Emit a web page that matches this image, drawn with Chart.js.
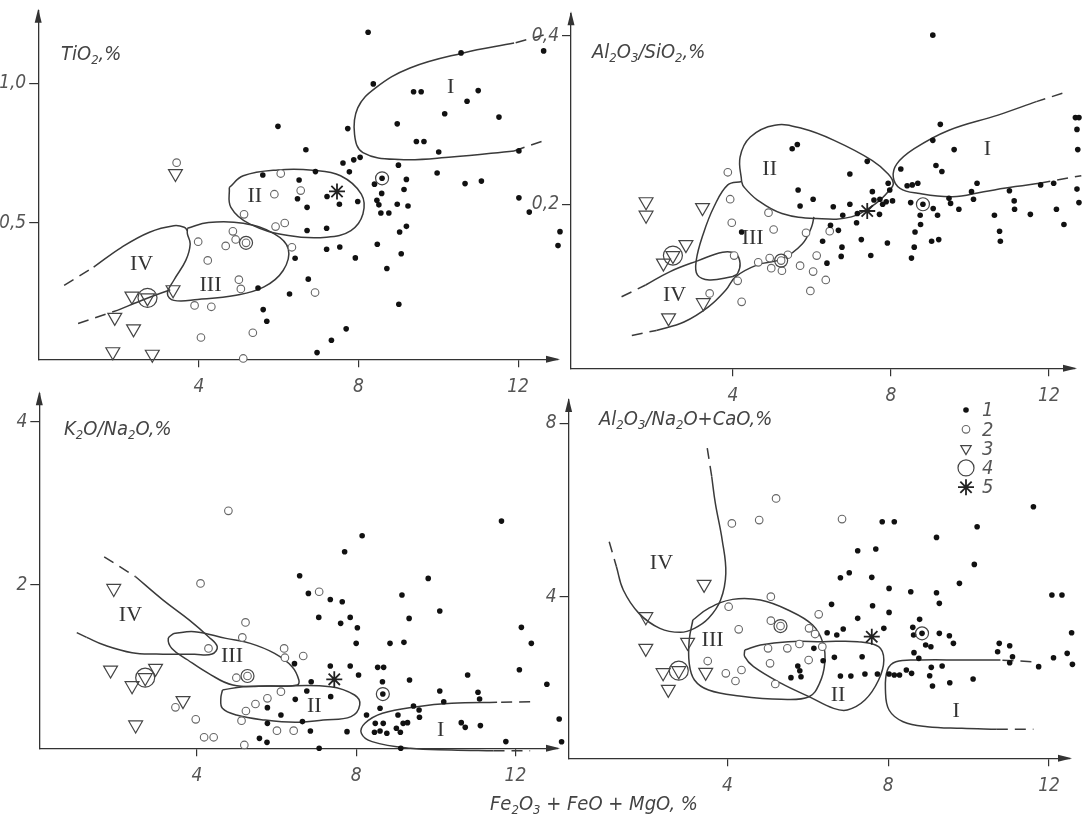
<!DOCTYPE html>
<html>
<head>
<meta charset="utf-8">
<script src="https://cdn.jsdelivr.net/npm/chart.js@4.4.1/dist/chart.umd.min.js"></script>
<style>
body { margin: 0; background: #fff; }
#page { position: relative; width: 1090px; height: 825px; overflow: hidden; background: #fff; }
canvas { position: absolute; left: 0; top: 0; }
.lbl { position: absolute; font-family: 'Liberation Sans Narrow', 'DejaVu Sans Condensed', 'Liberation Sans', sans-serif;
       font-style: italic; font-size: 20px; line-height: 20px; color: #444; white-space: nowrap; }
.lbl sub { font-size: 13px; vertical-align: -4px; line-height: 0; }
</style>
</head>
<body>
<div id="page">
<canvas id="c1" width="1090" height="825"></canvas>
<canvas id="c2" width="1090" height="825"></canvas>
<canvas id="c3" width="1090" height="825"></canvas>
<canvas id="c4" width="1090" height="825"></canvas>
<div class="lbl" style="left:61px;top:43px">TiO<sub>2</sub>,%</div>
<div class="lbl" style="left:592px;top:41px">Al<sub>2</sub>O<sub>3</sub>/SiO<sub>2</sub>,%</div>
<div class="lbl" style="left:64px;top:418px">K<sub>2</sub>O/Na<sub>2</sub>O,%</div>
<div class="lbl" style="left:599px;top:408px">Al<sub>2</sub>O<sub>3</sub>/Na<sub>2</sub>O+CaO,%</div>
<div class="lbl" style="left:490px;top:793px">Fe<sub>2</sub>O<sub>3</sub> + FeO + MgO, %</div>
</div>
<script>
// x axis is the same for all four panels: Fe2O3+FeO+MgO, %
var xTicks = [4, 8, 12];

// ---- panel 1: TiO2, %
var p1YTicks = [0.5, 1.0];
var p1YLabels = ['0,5', '1,0'];
var p1Dots = [[8.24,1.183],[10.57,1.109],[12.64,1.116],[8.37,0.998],[9.38,0.970],[9.57,0.970],[11.0,0.974],[10.72,0.936],
  [10.16,0.891],[11.52,0.879],[5.98,0.846],[7.73,0.838],[8.97,0.855],[9.45,0.792],[9.64,0.792],[6.68,0.762],[10.01,0.754],
  [12.02,0.758],[7.61,0.715],[7.88,0.726],[8.04,0.735],[9.0,0.707],[9.97,0.679],[5.60,0.672],[6.92,0.684],[7.77,0.683],
  [6.51,0.654],[10.67,0.641],[11.08,0.650],[8.40,0.639],[9.20,0.656],[8.58,0.606],[9.14,0.620],[8.46,0.581],[8.51,0.565],
  [8.56,0.536],[8.76,0.536],[6.47,0.587],[7.21,0.595],[7.52,0.567],[7.98,0.577],[6.71,0.556],[8.97,0.567],[9.24,0.561],
  [12.02,0.590],[12.28,0.539],[6.71,0.473],[7.20,0.481],[9.20,0.488],[9.03,0.468],[7.53,0.414],[7.20,0.406],[8.47,0.424],
  [6.41,0.374],[7.92,0.375],[9.07,0.390],[8.71,0.337],[6.74,0.299],[5.48,0.267],[6.27,0.246],[5.61,0.190],[5.70,0.148],
  [9.01,0.209],[7.69,0.121],[7.32,0.080],[6.96,0.036],[13.24,0.954],[13.24,0.669],[13.05,0.469],[13.0,0.419],[8.59,0.660]];
var p1Circles = [[3.44,0.716],[6.05,0.677],[5.89,0.603],[6.55,0.616],[5.13,0.531],[5.92,0.487],[6.15,0.500],[4.85,0.470],
  [4.92,0.441],[3.98,0.433],[4.67,0.418],[4.22,0.366],[6.33,0.413],[5.00,0.297],[5.05,0.264],[6.91,0.251],[3.89,0.205],
  [4.31,0.200],[5.35,0.107],[4.05,0.090],[5.11,0.015],[5.18,0.429]];
var p1Triangles = [[3.41,0.677],[2.32,0.238],[3.35,0.261],[1.89,0.162],[2.36,0.121],[1.84,0.039],[2.83,0.030],[2.71,0.232]];
var p1Rings = [[5.18,0.429],[2.71,0.232],[8.59,0.660]];
var p1Stars = [[7.46,0.613]];
var p1Curves = [
  [[11.90,1.144],[10.60,1.108],[9.29,1.055],[8.42,0.983],[7.98,0.912],[7.90,0.817],[8.11,0.752],[9.03,0.727],[10.33,0.736],[11.90,0.758]],
  [[4.76,0.627],[5.11,0.669],[5.98,0.690],[6.85,0.689],[7.55,0.669],[8.07,0.603],[8.11,0.532],[7.81,0.473],[7.20,0.449],[6.24,0.455],[5.28,0.496],[4.80,0.556],[4.76,0.627]],
  [[3.71,0.481],[4.24,0.502],[5.11,0.499],[5.89,0.461],[6.24,0.407],[6.11,0.330],[5.63,0.271],[4.93,0.241],[3.97,0.226],[3.37,0.223],[3.21,0.247],[3.37,0.295],[3.67,0.366],[3.78,0.425],[3.71,0.461],[3.71,0.481]],
  [[1.36,0.342],[2.06,0.413],[2.76,0.467],[3.37,0.490],[3.63,0.485],[3.71,0.473]],
  [[1.97,0.188],[2.67,0.229],[3.28,0.261]]
];
var p1Dashes = [[[12.64,1.173],[11.90,1.144]], [[11.90,0.758],[12.75,0.800]], [[0.62,0.277],[1.36,0.342]], [[0.97,0.140],[1.97,0.188]]];
var p1Romans = [['I',10.31,0.986],['II',5.40,0.595],['III',4.29,0.277],['IV',2.56,0.354]];

// ---- panel 2: Al2O3/SiO2, %
var p2YTicks = [0.2, 0.4];
var p2YLabels = ['0,2', '0,4'];
var p2Dots = [[9.06,0.401],[9.25,0.295],[9.06,0.276],[9.60,0.265],[12.67,0.303],[12.76,0.303],[12.71,0.289],[12.73,0.265],
  [5.50,0.266],[5.63,0.271],[7.40,0.251],[6.96,0.236],[8.25,0.242],[9.14,0.246],[9.29,0.239],[5.65,0.217],[5.70,0.198],
  [6.03,0.206],[6.54,0.197],[6.96,0.200],[6.78,0.187],[7.15,0.189],[7.53,0.215],[7.93,0.225],[7.97,0.217],[7.57,0.205],
  [7.72,0.206],[7.79,0.200],[7.88,0.203],[8.04,0.204],[7.71,0.188],[8.41,0.222],[8.54,0.223],[8.68,0.225],[8.50,0.202],
  [8.74,0.187],[9.07,0.195],[9.18,0.187],[9.47,0.207],[9.51,0.201],[9.72,0.194],[10.04,0.215],[10.09,0.206],[10.18,0.225],
  [10.62,0.187],[11.00,0.216],[11.12,0.204],[11.13,0.194],[11.53,0.188],[11.79,0.223],[12.12,0.225],[12.19,0.194],
  [12.38,0.176],[12.71,0.218],[12.76,0.202],[10.75,0.168],[10.77,0.156],[6.47,0.175],[6.67,0.169],[6.27,0.156],[7.25,0.158],
  [7.91,0.154],[7.49,0.139],[6.76,0.149],[6.74,0.138],[6.38,0.130],[7.13,0.178],[8.61,0.167],[8.75,0.176],[9.03,0.156],
  [9.21,0.158],[8.59,0.149],[8.52,0.136],[4.22,0.167],[8.81,0.200]];
var p2Circles = [[3.87,0.238],[3.93,0.206],[3.97,0.178],[4.90,0.190],[5.03,0.170],[5.85,0.166],[6.45,0.168],[4.03,0.139],
  [4.64,0.131],[4.93,0.136],[4.97,0.124],[5.24,0.121],[5.39,0.140],[5.70,0.127],[6.03,0.120],[6.12,0.139],[6.35,0.110],
  [5.96,0.097],[4.12,0.109],[4.22,0.084],[3.41,0.094],[5.22,0.133]];
var p2Triangles = [[1.80,0.203],[1.80,0.187],[3.23,0.196],[2.81,0.152],[2.24,0.130],[2.48,0.139],[3.25,0.083],[2.37,0.065]];
var p2Rings = [[2.48,0.139],[5.22,0.133],[8.81,0.200]];
var p2Stars = [[7.40,0.192]];
var p2Curves = [
  [[11.68,0.322],[10.71,0.306],[9.47,0.288],[8.59,0.266],[8.15,0.248],[8.06,0.232],[8.23,0.219],[8.68,0.213],[9.56,0.209],[10.35,0.215],[11.15,0.221],[11.76,0.225]],
  [[4.22,0.227],[4.18,0.256],[4.44,0.280],[5.06,0.294],[5.76,0.290],[6.56,0.276],[7.53,0.252],[7.93,0.236],[8.06,0.225],[7.97,0.217],[7.62,0.201],[7.0,0.185],[6.12,0.183],[5.24,0.189],[4.62,0.205],[4.27,0.221],[4.22,0.227]],
  [[4.22,0.227],[3.87,0.223],[3.52,0.197],[3.25,0.165],[3.07,0.133],[3.10,0.116],[3.40,0.110],[4.0,0.114]],
  [[2.06,0.050],[2.76,0.060],[3.38,0.078],[3.82,0.098],[4.07,0.114],[4.62,0.128],[5.24,0.135],[5.76,0.153],[5.99,0.173],[6.05,0.185]],
  [[1.79,0.104],[2.41,0.120],[3.12,0.133],[3.74,0.143],[4.07,0.141],[4.18,0.130],[4.12,0.118],[4.0,0.114]]
];
var p2Dashes = [[[12.34,0.332],[11.68,0.322]], [[11.76,0.225],[12.82,0.234]], [[1.44,0.044],[2.06,0.050]], [[1.18,0.090],[1.79,0.104]]];
var p2Romans = [['I',10.44,0.266],['II',4.93,0.242],['III',4.50,0.160],['IV',2.52,0.092]];

// ---- panel 3: K2O/Na2O, %
var p3YTicks = [2, 4];
var p3YLabels = ['2', '4'];
var p3Dots = [[11.65,2.784],[8.15,2.604],[7.71,2.408],[9.81,2.082],[6.58,2.114],[6.80,1.898],[9.15,1.878],[7.35,1.824],
  [7.65,1.796],[7.06,1.604],[7.85,1.604],[7.61,1.531],[9.33,1.592],[10.10,1.682],[8.03,1.478],[8.00,1.286],[8.85,1.286],
  [9.20,1.298],[12.15,1.482],[12.40,1.286],[6.45,1.037],[7.35,1.008],[7.85,1.008],[8.54,0.992],[8.69,0.992],[8.06,0.898],
  [9.34,0.837],[10.80,0.898],[12.10,0.963],[6.87,0.816],[6.76,0.702],[8.66,0.816],[10.10,0.702],[11.06,0.686],[6.47,0.600],
  [7.36,0.633],[5.77,0.498],[8.26,0.408],[8.60,0.490],[6.11,0.408],[9.44,0.518],[9.58,0.469],[9.59,0.380],[10.20,0.571],
  [11.10,0.604],[5.77,0.306],[8.48,0.306],[8.68,0.306],[9.05,0.408],[9.01,0.245],[9.18,0.306],[9.29,0.314],[9.11,0.196],
  [8.60,0.212],[8.46,0.196],[8.77,0.184],[10.64,0.314],[10.74,0.257],[11.12,0.278],[6.65,0.327],[6.85,0.212],[7.77,0.204],
  [5.57,0.122],[5.76,0.073],[7.07,0.0],[11.76,0.082],[9.12,0.0],[8.67,0.665],[12.79,0.784],[13.10,0.359],[13.20,0.257],
  [13.27,0.154],[13.16,0.081]];
var p3Circles = [[4.79,2.910],[4.09,2.020],[7.07,1.918],[5.22,1.543],[5.14,1.359],[4.29,1.224],[6.19,1.224],[6.21,1.110],
  [6.67,1.131],[4.99,0.865],[6.11,0.694],[5.77,0.612],[5.47,0.543],[5.23,0.457],[5.12,0.339],[3.46,0.502],[3.97,0.355],
  [4.18,0.135],[4.42,0.135],[6.01,0.216],[6.43,0.216],[5.19,0.041],[5.27,0.886]];
var p3Triangles = [[1.91,1.959],[1.83,0.959],[2.96,0.980],[2.37,0.767],[2.70,0.865],[3.65,0.584],[2.46,0.286]];
var p3Rings = [[2.70,0.865],[5.27,0.886],[8.67,0.665]];
var p3Stars = [[7.45,0.845]];
var p3Curves = [
  [[2.46,2.102],[3.15,1.816],[3.81,1.571],[4.29,1.367],[4.51,1.245],[4.38,1.155],[3.94,1.151],[2.98,1.155],[2.37,1.171],[1.67,1.265],[1.23,1.359]],
  [[3.42,1.408],[3.94,1.429],[4.73,1.347],[5.34,1.286],[5.95,1.163],[6.39,1.0],[6.56,0.837],[6.52,0.776],[5.86,0.763],[4.90,0.776],[4.29,0.918],[3.77,1.082],[3.37,1.224],[3.28,1.347],[3.42,1.408]],
  [[4.64,0.714],[5.16,0.755],[6.04,0.763],[7.35,0.755],[7.96,0.653],[8.09,0.531],[7.87,0.388],[7.17,0.347],[6.47,0.318],[5.69,0.347],[4.99,0.408],[4.64,0.490],[4.60,0.612],[4.64,0.714]],
  [[11.54,0.563],[10.40,0.551],[9.53,0.510],[8.66,0.429],[8.22,0.306],[8.13,0.184],[8.40,0.082],[9.36,0.0],[10.40,-0.02],[11.45,-0.03]]
];
var p3Dashes = [[[1.67,2.347],[2.46,2.102]], [[1.23,1.359],[0.93,1.429]], [[12.37,0.571],[11.54,0.563]], [[11.45,-0.03],[12.37,-0.03]]];
var p3Romans = [['I',10.12,0.216],['II',6.95,0.518],['III',4.88,1.131],['IV',2.33,1.633]];

// ---- panel 4: Al2O3/Na2O+CaO, %
var p4YTicks = [4, 8];
var p4YLabels = ['4', '8'];
var p4Dots = [[11.61,6.077],[7.85,5.731],[8.15,5.731],[10.21,5.615],[9.20,5.369],[7.24,5.062],[7.69,5.100],[10.14,4.746],
  [6.81,4.438],[7.03,4.554],[7.59,4.446],[9.77,4.308],[8.02,4.192],[8.56,4.115],[9.20,4.092],[12.07,4.038],[12.32,4.038],
  [6.59,3.823],[7.61,3.792],[9.27,3.846],[8.02,3.638],[7.24,3.500],[8.78,3.477],[7.89,3.269],[6.48,3.169],[6.72,3.115],
  [6.88,3.254],[8.61,3.292],[8.63,3.115],[9.27,3.154],[9.52,3.100],[9.62,2.923],[8.93,2.885],[9.06,2.846],[12.56,3.169],
  [12.66,3.169],[8.64,2.708],[8.76,2.577],[6.15,2.808],[6.66,2.600],[7.35,2.615],[6.38,2.523],[5.75,2.400],[5.80,2.292],
  [5.83,2.154],[5.58,2.131],[10.76,2.923],[11.02,2.869],[11.09,2.615],[11.02,2.477],[11.74,2.385],[12.11,2.592],
  [12.45,2.692],[12.66,2.731],[12.58,2.438],[9.34,2.400],[9.07,2.369],[8.45,2.308],[8.58,2.231],[8.15,2.192],[8.28,2.192],
  [8.02,2.215],[9.03,2.177],[10.11,2.100],[9.53,2.015],[9.10,1.938],[7.42,2.215],[7.73,2.215],[6.81,2.169],[7.07,2.169],
  [10.72,2.731],[8.84,3.154]];
var p4Circles = [[5.21,6.269],[4.11,5.692],[4.79,5.769],[6.85,5.792],[5.08,4.0],[4.03,3.769],[6.27,3.592],[4.28,3.246],
  [5.08,3.446],[6.03,3.269],[6.18,3.138],[5.49,2.808],[5.79,2.908],[5.01,2.808],[6.36,2.846],[6.02,2.538],[5.06,2.462],
  [3.51,2.515],[4.35,2.308],[3.96,2.231],[4.20,2.054],[5.19,1.985],[5.32,3.323]];
var p4Triangles = [[3.42,4.285],[1.97,3.538],[1.97,2.808],[3.01,2.946],[3.46,2.254],[2.40,2.246],[2.53,1.862],[2.79,2.292]];
var p4Rings = [[2.79,2.292],[5.32,3.323],[8.84,3.154]];
var p4Stars = [[7.59,3.077]];
var p4Curves = [
  [[1.24,4.692],[1.41,4.154],[1.80,3.615],[2.32,3.269],[2.83,3.177],[3.18,3.269],[3.53,3.5],[3.83,3.923],[3.96,4.538],[3.87,5.308],[3.70,6.154],[3.61,6.769]],
  [[3.14,3.462],[3.53,3.731],[4.13,3.938],[4.82,3.923],[5.51,3.692],[6.12,3.346],[6.38,2.923],[6.42,2.462],[6.29,2.0],[6.03,1.692],[5.34,1.631],[4.30,1.708],[3.53,1.846],[3.18,2.077],[3.05,2.462],[3.05,3.0],[3.14,3.462]],
  [[4.43,2.769],[4.82,2.885],[5.51,2.962],[6.38,2.962],[7.24,2.962],[7.76,2.846],[7.89,2.538],[7.76,2.077],[7.42,1.615],[6.98,1.385],[6.64,1.423],[6.03,1.692],[5.34,2.0],[4.65,2.385],[4.43,2.615],[4.43,2.769]],
  [[10.79,2.538],[9.83,2.538],[8.80,2.538],[8.19,2.5],[7.98,2.308],[7.93,1.846],[8.02,1.385],[8.37,1.115],[8.97,1.0],[9.83,0.962],[10.70,0.938]]
];
var p4Dashes = [[[1.06,5.269],[1.24,4.692]], [[3.61,6.769],[3.48,7.538]], [[11.56,2.5],[10.79,2.538]], [[10.70,0.938],[11.61,0.938]]];
var p4Romans = [['I',9.69,1.346],['II',6.75,1.731],['III',3.63,3.0],['IV',2.36,4.769]];

// legend captions for marker types 1..5
var legendItems = ['1', '2', '3', '4', '5'];

var FONT = "'Liberation Sans Narrow', 'DejaVu Sans Condensed', 'Liberation Sans', sans-serif";
var INK = '#333';
var AXIS_H = 45;

function pts(a) { return a.map(function (p) { return { x: p[0], y: p[1] }; }); }

var markerStyles = {
    dot: { pointStyle: 'circle', radius: 2.8, fill: '#111', stroke: '#111', width: 0 },
    circle: { pointStyle: 'circle', radius: 3.8, fill: '#fff', stroke: '#666', width: 1.1 },
    tri: { pointStyle: 'triangle', radius: 8, rotation: 180, fill: 'rgba(255,255,255,0)', stroke: '#444', width: 1.2 },
    ring: { pointStyle: 'circle', radius: 8, fill: 'rgba(255,255,255,0)', stroke: '#444', width: 1.2 },
    star: { pointStyle: 'star', radius: 8, fill: '#222', stroke: '#222', width: 1.8 }
};

function pointSet(data, st, order, radius) {
    return {
        data: pts(data), order: order, clip: false, showLine: false,
        pointStyle: st.pointStyle, pointRotation: st.rotation || 0,
        pointRadius: radius || st.radius, backgroundColor: st.fill,
        borderColor: st.stroke, borderWidth: st.width
    };
}

function arrowsAndLabels(romans, extra) {
    return {
        id: 'decor',
        afterDraw: function (chart) {
            var ctx = chart.ctx, a = chart.chartArea;
            var xs = chart.scales.x, ys = chart.scales.y;
            ctx.save();
            ctx.fillStyle = INK;
            ctx.beginPath();
            ctx.moveTo(a.left, a.top - 2);
            ctx.lineTo(a.left - 3.5, a.top + 12);
            ctx.lineTo(a.left + 3.5, a.top + 12);
            ctx.closePath();
            ctx.fill();
            ctx.beginPath();
            ctx.moveTo(a.right + 2, a.bottom);
            ctx.lineTo(a.right - 12, a.bottom - 3.5);
            ctx.lineTo(a.right - 12, a.bottom + 3.5);
            ctx.closePath();
            ctx.fill();
            ctx.font = "22px 'Liberation Serif', 'DejaVu Serif', serif";
            ctx.textAlign = 'center';
            ctx.textBaseline = 'middle';
            romans.forEach(function (r) {
                ctx.fillText(r[0], xs.getPixelForValue(r[1]), ys.getPixelForValue(r[2]));
            });
            ctx.restore();
            if (extra) extra(chart);
        }
    };
}

function drawLegend(chart) {
    var ctx = chart.ctx;
    var kinds = ['dot', 'circle', 'tri', 'ring', 'star'];
    ctx.save();
    ctx.font = 'italic 20px ' + FONT;
    ctx.textBaseline = 'middle';
    ctx.textAlign = 'left';
    legendItems.forEach(function (txt, i) {
        var st = markerStyles[kinds[i]];
        var y = 410 + i * 19.3;
        ctx.fillStyle = st.fill;
        ctx.strokeStyle = st.stroke;
        ctx.lineWidth = st.width;
        Chart.helpers.drawPoint(ctx, { pointStyle: st.pointStyle, rotation: st.rotation || 0,
            radius: kinds[i] === 'tri' ? 6 : st.radius, borderWidth: st.width }, 966, y);
        ctx.fillStyle = '#555';
        ctx.fillText(txt, 982, y + 1);
    });
    ctx.restore();
}

function makePanel(id, p) {
    var datasets = [];
    var tri = p.triangles;
    datasets.push(pointSet(p.rings, markerStyles.ring, 0, function (c) {
        var r = c.raw;
        var inner = tri.some(function (t) { return Math.abs(t[0] - r.x) < 0.05 && Math.abs(t[1] - r.y) < (p.y[1] - p.y[0]) * 0.02; });
        return inner ? 9.5 : 6.5;
    }));
    datasets.push(pointSet(p.stars, markerStyles.star, 1));
    datasets.push(pointSet(p.dots, markerStyles.dot, 2));
    datasets.push(pointSet(p.circles, markerStyles.circle, 3));
    datasets.push(pointSet(p.triangles, markerStyles.tri, 4));
    p.curves.forEach(function (c) {
        datasets.push({ data: pts(c), order: 10, clip: false, showLine: true, tension: 0.4, pointRadius: 0,
            borderColor: '#3a3a3a', borderWidth: 1.5, fill: false });
    });
    p.dashes.forEach(function (c) {
        datasets.push({ data: pts(c), order: 10, clip: false, showLine: true, pointRadius: 0,
            borderColor: '#3a3a3a', borderWidth: 1.5, borderDash: [11, 7], fill: false });
    });
    var a = p.area;
    // y axis box must be wide enough that its labels are not clipped
    var axisW = Math.min(42, Math.floor(a.left));
    var tickFont = { family: FONT, size: 19, style: 'italic' };
    new Chart(document.getElementById(id), {
        type: 'scatter',
        data: { datasets: datasets },
        options: {
            responsive: false, animation: false, devicePixelRatio: 1, events: [],
            layout: { padding: { left: a.left - axisW, right: 1090 - a.right, top: a.top, bottom: 825 - a.bottom - AXIS_H } },
            plugins: { legend: { display: false }, tooltip: { enabled: false } },
            scales: {
                x: {
                    type: 'linear', min: p.x[0], max: p.x[1], bounds: 'data',
                    afterBuildTicks: function (s) { s.ticks = xTicks.map(function (v) { return { value: v }; }); },
                    afterFit: function (s) { s.height = AXIS_H; s.paddingLeft = 0; s.paddingRight = 0; },
                    ticks: { font: tickFont, color: '#555', padding: 8, maxRotation: 0, autoSkip: false,
                        callback: function (v) { return String(v); } },
                    grid: { drawOnChartArea: false, tickLength: 8, color: INK, lineWidth: 1.2 },
                    border: { color: INK, width: 1.3 }
                },
                y: {
                    type: 'linear', min: p.y[0], max: p.y[1], bounds: 'data',
                    afterBuildTicks: function (s) { s.ticks = p.yTicks.map(function (v) { return { value: v }; }); },
                    afterFit: function (s) { s.width = axisW; s.paddingTop = 0; s.paddingBottom = 0; },
                    ticks: { font: tickFont, color: '#555', padding: 3, autoSkip: false,
                        callback: function (v, i) { return p.yLabels[i]; } },
                    grid: { drawOnChartArea: false, tickLength: 9, color: INK, lineWidth: 1.2 },
                    border: { color: INK, width: 1.3 }
                }
            }
        },
        plugins: [arrowsAndLabels(p.romans, p.extra)]
    });
}

makePanel('c1', { area: { left: 38.2, right: 558, top: 9, bottom: 359.3 }, x: [-0.03, 13.0], y: [0.012, 1.26],
    yTicks: p1YTicks, yLabels: p1YLabels, dots: p1Dots, circles: p1Circles, triangles: p1Triangles, rings: p1Rings,
    stars: p1Stars, curves: p1Curves, dashes: p1Dashes, romans: p1Romans });
makePanel('c2', { area: { left: 571, right: 1075, top: 13.3, bottom: 368.3 }, x: [-0.1, 12.66], y: [0.005, 0.427],
    yTicks: p2YTicks, yLabels: p2YLabels, dots: p2Dots, circles: p2Circles, triangles: p2Triangles, rings: p2Rings,
    stars: p2Stars, curves: p2Curves, dashes: p2Dashes, romans: p2Romans });
makePanel('c3', { area: { left: 39.3, right: 558, top: 393.3, bottom: 748.3 }, x: [0.04, 13.07], y: [0, 4.35],
    yTicks: p3YTicks, yLabels: p3YLabels, dots: p3Dots, circles: p3Circles, triangles: p3Triangles, rings: p3Rings,
    stars: p3Stars, curves: p3Curves, dashes: p3Dashes, romans: p3Romans });
makePanel('c4', { area: { left: 568.6, right: 1070, top: 400, bottom: 758.3 }, x: [0.05, 12.52], y: [0.27, 8.54],
    yTicks: p4YTicks, yLabels: p4YLabels, dots: p4Dots, circles: p4Circles, triangles: p4Triangles, rings: p4Rings,
    stars: p4Stars, curves: p4Curves, dashes: p4Dashes, romans: p4Romans, extra: drawLegend });
</script>
</body>
</html>
